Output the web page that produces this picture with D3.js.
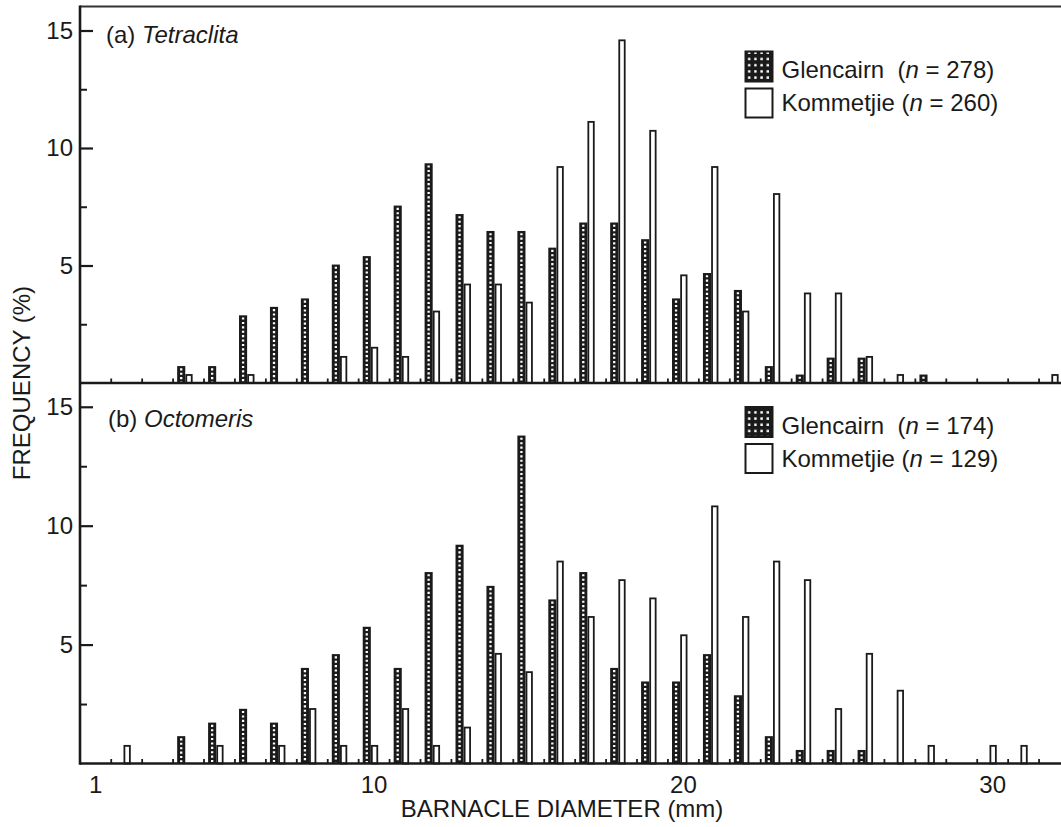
<!DOCTYPE html>
<html><head><meta charset="utf-8">
<script src="https://cdn.jsdelivr.net/npm/d3@7"></script>
<style>
body{margin:0;background:#fff}
svg{display:block}
text{font-family:"Liberation Sans",Arial,Helvetica,sans-serif;fill:#1a1a1a}
</style>
</head><body>
<svg id="c" width="1061" height="827"></svg>
<script>
// Size classes (mm), one per bin
const bins = [1,2,3,4,5,6,7,8,9,10,11,12,13,14,15,16,17,18,19,20,21,22,23,24,25,26,27,28,29,30,31,32];
// (a) Tetraclita, frequency (%)
const tetraclitaGlencairn = [0,0,0,0.72,0.72,2.88,3.24,3.60,5.04,5.40,7.55,9.35,7.19,6.47,6.47,5.76,6.83,6.83,6.12,3.60,4.68,3.96,0.72,0.36,1.08,1.08,0,0.36,0,0,0,0];
const tetraclitaKommetjie = [0,0,0,0.38,0,0.38,0,0,1.15,1.54,1.15,3.08,4.23,4.23,3.46,9.23,11.15,14.62,10.77,4.62,9.23,3.08,8.08,3.85,3.85,1.15,0.38,0,0,0,0,0.38];
// (b) Octomeris, frequency (%)
const octomerisGlencairn = [0,0,0,1.15,1.72,2.30,1.72,4.02,4.60,5.75,4.02,8.05,9.20,7.47,13.79,6.90,8.05,4.02,3.45,3.45,4.60,2.87,1.15,0.57,0.57,0.57,0,0,0,0,0,0];
const octomerisKommetjie = [0,0.78,0,0,0.78,0,0.78,2.33,0.78,0.78,2.33,0.78,1.55,4.65,3.88,8.53,6.20,7.75,6.98,5.43,10.85,6.20,8.53,7.75,2.33,4.65,3.10,0.78,0,0.78,0.78,0];
const xTickLabels = [1,10,20,30];
const yMajorTicks = [5,10,15];
const yMinorTicks = [2.5,7.5,12.5];
const binEdges = [1.5,2.5,3.5,4.5,5.5,6.5,7.5,8.5,9.5,10.5,11.5,12.5,13.5,14.5,15.5,16.5,17.5,18.5,19.5,20.5,21.5,22.5,23.5,24.5,25.5,26.5,27.5,28.5,29.5,30.5,31.5];
const panelLetters = ["(a)","(b)"];
const panelSpecies = ["Tetraclita","Octomeris"];
const sampleSizes = [[278,260],[174,129]];
const siteNames = ["Glencairn","Kommetjie"];

const svg = d3.select("#c");
const INK = "#1a1a1a";
const FS = 24;
const x = d3.scaleLinear().domain([0.5, 32.5]).range([79.8, 1069.5]);
const bw = x(1.5) - x(0.5);

const defs = svg.append("defs");
const pat = defs.append("pattern").attr("id","dots").attr("patternUnits","userSpaceOnUse")
  .attr("width",6.2).attr("height",6.2).attr("x",746).attr("y",0);
pat.append("rect").attr("width",6.2).attr("height",6.2).attr("fill",INK);
pat.append("rect").attr("x",2).attr("y",2).attr("width",2.4).attr("height",2.4).attr("fill","#fff");

const panels = [
  {g: tetraclitaGlencairn, k: tetraclitaKommetjie, y: d3.scaleLinear().domain([0,16]).range([383,7]), labelY: 42.5, labelX: 106, legY: 51.5},
  {g: octomerisGlencairn, k: octomerisKommetjie, y: d3.scaleLinear().domain([0,16]).range([763.5,383]), labelY: 427, labelX: 108, legY: 407}
];

panels.forEach((p, pi) => {
  const y = p.y;
  const base = y(0);
  const gp = svg.append("g");
  bins.forEach((b, i) => {
    const v = p.g[i];
    if (v > 0) {
      const x0 = x(b - 0.5) + bw * 0.148;
      const w = bw * 0.262;
      gp.append("rect").attr("x", x0).attr("y", y(v)).attr("width", w).attr("height", base - y(v))
        .attr("fill", INK);
      gp.append("line").attr("x1", x0 + w/2).attr("x2", x0 + w/2)
        .attr("y1", y(v) + 2.2).attr("y2", base - 1)
        .attr("stroke", "#fff").attr("stroke-width", 2.3).attr("stroke-dasharray", "2.1,2.3");
    }
    const kv = p.k[i];
    if (kv > 0) {
      const x0 = x(b - 0.5) + bw * 0.413 + 0.9;
      const w = bw * 0.235 - 1.8;
      gp.append("rect").attr("x", x0).attr("y", y(kv) + 0.9).attr("width", w).attr("height", base - y(kv) - 0.9)
        .attr("fill", "#fff").attr("stroke", INK).attr("stroke-width", 1.8);
    }
  });

  const ya = svg.append("g").attr("transform", "translate(80,0)")
    .call(d3.axisLeft(y).tickValues(yMajorTicks).tickSizeInner(-13).tickSizeOuter(0).tickPadding(7).tickFormat(d3.format("d")));
  ya.select(".domain").remove();
  ya.selectAll("line").attr("stroke", INK).attr("stroke-width", 2.2);
  ya.selectAll("text").attr("font-family", '"Liberation Sans",Arial,sans-serif').attr("font-size", FS).attr("fill", INK);
  const ym = svg.append("g").attr("transform", "translate(80,0)")
    .call(d3.axisLeft(y).tickValues(yMinorTicks).tickSizeInner(-7).tickSizeOuter(0).tickFormat(""));
  ym.select(".domain").remove();
  ym.selectAll("line").attr("stroke", INK).attr("stroke-width", 2);

  const xa = svg.append("g").attr("transform", `translate(0,${base})`)
    .call(d3.axisTop(x).tickValues(binEdges).tickSizeInner(4.5).tickSizeOuter(0).tickFormat(""));
  xa.select(".domain").remove();
  xa.selectAll("line").attr("stroke", INK).attr("stroke-width", 1.8);

  svg.append("line").attr("x1", 80).attr("x2", 1061).attr("y1", base).attr("y2", base)
    .attr("stroke", INK).attr("stroke-width", 2.6);

  const t = svg.append("text").attr("x", p.labelX).attr("y", p.labelY).attr("font-size", FS).style("white-space","pre");
  t.append("tspan").text(panelLetters[pi] + " ");
  t.append("tspan").attr("font-style", "italic").text(panelSpecies[pi]);

  const lx = 745.5, ly = p.legY;
  svg.append("rect").attr("x", lx).attr("y", ly).attr("width", 27).attr("height", 30)
    .attr("fill", "url(#dots)").attr("stroke", INK).attr("stroke-width", 2);
  svg.append("rect").attr("x", lx).attr("y", ly + 37).attr("width", 27).attr("height", 29)
    .attr("fill", "#fff").attr("stroke", INK).attr("stroke-width", 2);
  [0,1].forEach(j => {
    const lt = svg.append("text").attr("x", lx + 36).attr("y", ly + 26.5 + j*33).attr("font-size", FS).style("white-space","pre");
    lt.append("tspan").text(siteNames[j] + (j === 0 ? "  (" : " ("));
    lt.append("tspan").attr("font-style","italic").text("n");
    lt.append("tspan").text(" = " + sampleSizes[pi][j] + ")");
  });
});

svg.append("line").attr("x1", 80).attr("x2", 1061).attr("y1", 6.5).attr("y2", 6.5)
  .attr("stroke", "#333").attr("stroke-width", 2);
svg.append("line").attr("x1", 80).attr("x2", 80).attr("y1", 5.5).attr("y2", 764.8)
  .attr("stroke", INK).attr("stroke-width", 2.6);

const xl = svg.append("g").attr("transform", "translate(0,763.5)")
  .call(d3.axisBottom(x).tickValues(xTickLabels).tickSize(0).tickPadding(12).tickFormat(d3.format("d")));
xl.select(".domain").remove();
xl.selectAll("text").attr("font-family", '"Liberation Sans",Arial,sans-serif').attr("font-size", FS).attr("fill", INK);

svg.append("text").attr("x", 562).attr("y", 817).attr("text-anchor", "middle").attr("font-size", FS)
  .text("BARNACLE DIAMETER (mm)");
svg.append("text").attr("transform", "translate(30,383) rotate(-90)").attr("text-anchor", "middle").attr("font-size", FS)
  .text("FREQUENCY (%)");
</script>
</body></html>
